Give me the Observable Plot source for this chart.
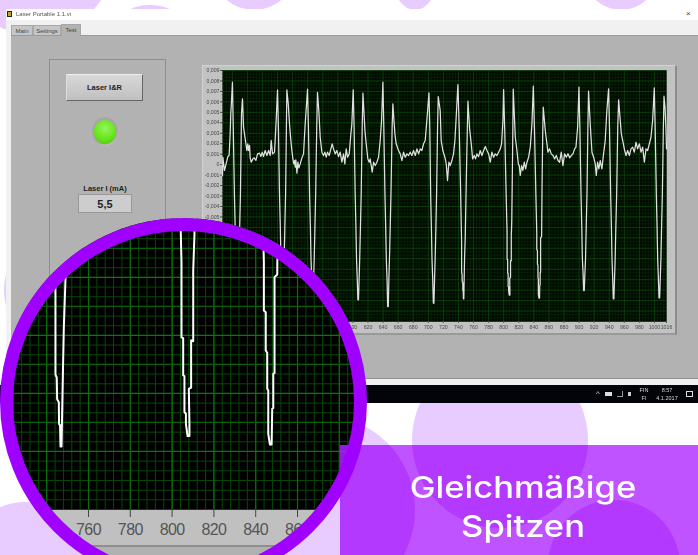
<!DOCTYPE html>
<html><head><meta charset="utf-8">
<script src="https://cdn.jsdelivr.net/npm/d3@7"></script>
<script src="https://cdn.jsdelivr.net/npm/@observablehq/plot@0.6"></script>
<style>
html,body{margin:0;padding:0;background:#fff;width:698px;height:555px;overflow:hidden;font-family:"Liberation Sans",sans-serif}
#page{position:relative;width:698px;height:555px;overflow:hidden}
#page div,#page span{position:absolute}
.lilac{background:#e8ccff;border-radius:50%}
.tab{background:#c6c6c6;border:1px solid #a8a8a8;border-bottom:0;font-size:6px;color:#444;text-align:center;line-height:10px;box-sizing:border-box}
.tray{color:#d8d8d8;font-size:5.5px;text-align:center;width:30px;filter:blur(.25px)}
svg{display:block}
#inset text{letter-spacing:-.6px}
</style></head><body>
<div id="page">
  <div class="lilac" style="left:-45px;top:-125px;width:160px;height:160px"></div>
  <div class="lilac" style="left:110px;top:5px;width:80px;height:60px"></div>
  <div class="lilac" style="left:215px;top:-60px;width:78px;height:70px"></div>
  <div class="lilac" style="left:392px;top:-60px;width:46px;height:70px"></div>
  <div class="lilac" style="left:585px;top:-60px;width:72px;height:70px"></div>
  <div class="lilac" style="left:4px;top:230px;width:120px;height:120px"></div>
  <div class="lilac" style="left:412px;top:352px;width:176px;height:176px"></div>
  <div class="lilac" style="left:225px;top:415px;width:190px;height:190px"></div>
  <div class="lilac" style="left:-38px;top:502px;width:126px;height:126px"></div>
  <div class="lilac" style="left:548px;top:500px;width:132px;height:132px"></div>

  <!-- application window -->
  <div style="left:6px;top:9px;width:692px;height:376px;background:#f1f1f1"></div>
  <div style="left:6px;top:9px;width:692px;height:11px;background:#fff"></div>
  <div style="left:7px;top:11px;width:5px;height:6px;background:#c9a227;border:1px solid #222;box-sizing:border-box"></div>
  <span style="left:16px;top:10.5px;font-size:6px;color:#555;white-space:nowrap;filter:blur(.25px)">Laser Portable 1.1.vi</span>
  <span style="left:686px;top:9px;font-size:8px;color:#444">×</span>
  <div style="left:11px;top:35px;width:687px;height:344px;background:#b2b2b2;border-top:1px solid #9a9a9a;border-bottom:1px solid #929292;box-sizing:border-box"></div>
  <div class="tab" style="left:11px;top:25px;width:22px;height:10px">Main</div>
  <div class="tab" style="left:33px;top:25px;width:28px;height:10px">Settings</div>
  <div class="tab" style="left:61px;top:24px;width:20px;height:12px;background:#b2b2b2">Test</div>

  <div style="left:49px;top:59px;width:117px;height:300px;border:1px solid #8e8e8e;box-sizing:border-box"></div>
  <div style="left:66px;top:74px;width:77px;height:27px;box-sizing:border-box;border:1px solid #666;border-top-color:#eee;border-left-color:#ddd;background:linear-gradient(#d8d8d8,#c0c0c0);font-size:7.5px;font-weight:bold;color:#222;text-align:center;line-height:26px">Laser I&amp;R</div>
  <div style="left:92px;top:117px;width:26px;height:29px;border-radius:50%;background:radial-gradient(circle at 45% 45%,#a6a6a6 62%,#f2f2f2 100%)"></div>
  <div style="left:94px;top:120px;width:22px;height:24px;border-radius:50%;background:radial-gradient(circle at 50% 35%,#96f45c,#62e416 60%,#4cc00a)"></div>
  <span style="left:66px;top:184px;width:78px;text-align:center;font-size:7.5px;font-weight:bold;color:#222">Laser I (mA)</span>
  <div style="left:78px;top:194px;width:54px;height:19px;box-sizing:border-box;background:#cdcdcd;border:1px solid #999;font-size:11px;font-weight:bold;color:#222;text-align:center;line-height:18px">5,5</div>

  <div style="left:202px;top:65px;width:475px;height:270px;background:#c2c2c2;box-sizing:border-box;border:1px solid #d2d2d2;border-right:2px solid #8c8c8c;border-bottom:2px solid #999"></div>
  <div id="main" style="left:202px;top:65px;filter:blur(.4px)"></div>

  <!-- taskbar -->
  <div style="left:0;top:379px;width:698px;height:6px;background:#f1f1f1"></div>
  <div style="left:0;top:385px;width:698px;height:18px;background:#02040a"></div>
  <span class="tray" style="left:583px;top:389px;font-size:8px">^</span>
  <div style="left:605px;top:392px;width:7px;height:4px;background:#ddd"></div>
  <div style="left:617px;top:391px;width:6px;height:6px;border-bottom:1px solid #999;border-right:1px solid #999;box-sizing:border-box"></div>
  <div style="left:628px;top:392px;width:3px;height:4px;background:#ccc"></div>
  <span class="tray" style="left:629px;top:386.5px">FIN</span>
  <span class="tray" style="left:629px;top:394.5px">FI</span>
  <span class="tray" style="left:652px;top:386.5px">8:57</span>
  <span class="tray" style="left:652px;top:394.5px">4.1.2017</span>
  <div style="left:686px;top:391px;width:7px;height:6px;border:1px solid #ddd;box-sizing:border-box"></div>

  <!-- magnifier -->
  <div id="lens" style="left:1px;top:218px;width:365px;height:365px;border-radius:50%;overflow:hidden;background:#c0c0c0">
    <div id="inset" style="left:-1px;top:0"></div>
    <div style="left:0;top:327px;width:365px;height:40px;background:#b1b1b1;border-top:2px solid #8f8f8f;box-sizing:border-box"></div>
  </div>

  <!-- caption box -->
  <div style="left:340px;top:445px;width:358px;height:110px;overflow:hidden;background:rgba(175,40,255,.8)">
    <div style="left:72px;top:-93px;width:176px;height:176px;border-radius:50%;background:rgba(165,20,255,.3)"></div>
    <div style="left:-115px;top:-30px;width:190px;height:190px;border-radius:50%;background:rgba(165,20,255,.3)"></div>
    <div style="left:208px;top:55px;width:132px;height:132px;border-radius:50%;background:rgba(165,20,255,.3)"></div>
  </div>
  <div style="left:0;top:218px;width:367px;height:367px;border-radius:50%;border:13px solid #a000ff;box-sizing:border-box"></div>
  <div style="left:340px;top:468px;width:366px;text-align:center;color:#fff;font-family:Inter,sans-serif;font-weight:500;font-size:30px;line-height:39px;transform:scaleX(1.15)">Gleichmäßige<br>Spitzen</div>
</div>
<script>
// Trace read from the scope display. x = sample, y = signal in thousandths.
const lead = [[427,-1.04],[427.5,.71],[429.6,-.56],[431.8,.07],[434.1,.77],[435.8,.88],[437.2,3],[438,4.86],[438.8,5.9]];
const spike1 = [[440.2,7.88],[441.3,3.5],[442.8,-2.8],[443.8,-6],[444.6,-9],[445.6,-11],[446.4,-12.9],[447.2,-12.9],[448,-11],[448.9,-9],[449.8,-6],[450.8,-2.8],[452.2,4.86],[453.5,6.29]];
const rest1 = [[454.9,3.58],[457.1,2.47],[459.3,1.35],[460.6,1.99],[461.5,1.35],[462.9,1.83],[463.7,.65],[465.1,.24],[467.3,.55],[469,.65],[471.3,.4],[473.5,1.03],[476.1,1.1],[477.9,.78],[479.7,1.19],[481.4,.78],[483.6,1.35],[485.9,.87],[488.1,1.35],[490.3,.87],[491.6,2.31],[493.4,1.03],[496,1.19],[498.2,4.22]];
const spike2 = [[500,7.15],[501.2,3.5],[502.6,-2.8],[503.7,-6],[504.5,-9],[505.5,-11],[506.3,-12.9],[507.1,-12.9],[507.9,-11],[508.8,-9],[509.7,-6],[510.7,-2.8],[512,5],[512.4,7.15]];
const rest2 = [[514.2,5.81],[515.9,3.9],[517.7,2.3],[519,1.35],[520.4,.55],[521.7,.07],[522.6,.39],[523.5,-.25],[524.3,.45],[525.7,-.82],[527,.23],[528.3,-.31],[530.1,.07],[531.9,.55],[534.5,1.03],[536.7,3.9],[538.5,5.81]];
const spike3 = [[539.8,7.21],[541,3.5],[542.5,-2.8],[543.6,-6],[544.4,-9],[545.4,-11],[546.2,-12.8],[547,-12.8],[547.8,-11],[548.7,-9],[549.6,-6],[550.6,-2.8],[552,3.5],[553,6.92]];
const rest3 = [[554.9,5],[556.6,2.62],[558.8,1.19],[561,.87],[562.8,1.19],[564.6,.71],[566.3,1.19],[568.5,.87],[570.8,1.51],[572.5,1.99],[574.3,1.51],[576.5,1.03],[578.7,1.35],[580.9,.77],[583.1,1.19],[585.4,.23],[587.6,1.03],[589.3,.07],[591.1,1.51],[592.9,.71],[595.1,1.03],[597.3,2.94],[598.6,3.9]];
const spike4 = [[600.4,7.15],[601.6,3.5],[603,-2.8],[604,-6],[604.8,-9],[605.8,-11],[606.6,-12.93],[607.4,-12.93],[608.2,-11],[609,-9],[610,-6],[611,-2.8],[612.3,3.5],[613.3,6.83]];
const rest4 = [[614.5,5.2],[616,3.2],[617.6,1.99],[619.8,.55],[621.6,.23],[622.9,.55],[624.3,-.09],[625.6,-.72],[627.4,.23],[629.6,-.09],[631.8,.23],[634,.71],[636.2,2.3],[638,4.22]];
const spike5 = [[639.8,7.88],[641,3.5],[642.5,-2.8],[643.5,-6],[644.3,-9],[645.3,-11],[646.1,-13.57],[646.9,-13.57],[647.7,-11],[648.5,-9],[649.5,-6],[650.5,-2.8],[652,3.5],[653,5.81]];
const rest5 = [[654.3,4.4],[655.7,2.94],[657.4,1.99],[660.5,1.35],[662.8,1.03],[665,.39],[667.2,1.19],[669.4,.71],[671.6,1.03],[673.8,.87],[676,1.19],[678.2,.87],[680.4,1.35],[682.7,.87],[684.9,1.51],[687.1,1.03],[689.3,1.51],[691.5,1.35],[693.7,1.99],[695.9,2.3],[698.1,4.22]];
const spike6 = [[700.9,6.86],[702,3.5],[703.1,-2.8],[704.1,-6],[704.9,-9],[705.9,-11],[706.7,-13.25],[707.5,-13.25],[708.3,-11],[709.1,-9],[710.1,-6],[711,-2.8],[712.3,3.5],[713.2,6.51]];
const rest6 = [[715.8,5.17],[717.1,2.3],[719.3,1.35],[722,.71],[723.8,.07],[725.5,-1.52],[727.3,.23],[729.1,-.09],[731.3,.39],[733.5,1.03],[735.3,2.3],[737,4.53]];
const spike7 = [[739.3,7.66],[741,3.5],[742.7,-2],[744.2,-7.5],[744.2,-10.35],[744.8,-10.45],[745,-11.2],[745.8,-11.3],[745.9,-12.05],[746.4,-12.1],[746.6,-12.83],[747.1,-12.83],[747.4,-11.64],[747.7,-10.5],[748.2,-8.71],[749,-7.05],[750.4,-1.5],[751.8,3.5],[752.6,6.06]];
const rest7 = [[754.8,3.42],[757,1.99],[758.8,.55],[761,.87],[762.7,.55],[764.5,1.03],[766.7,.77],[768.9,1.35],[771.2,.87],[773.4,1.35],[775.6,1.73],[777.8,1.35],[780,1.03],[782.2,.23],[784.4,1.19],[786.6,.71],[788.8,1.03],[791,.87],[793.3,1.19],[795.5,1.51],[797.2,1.99],[799,4.22]];
const spike8 = [[799.9,7.18],[801.5,3],[803,-2],[804.5,-6.5],[804.5,-9.06],[805.3,-9.1],[805.3,-10.38],[805.9,-10.4],[805.9,-11.64],[806.6,-11.7],[806.6,-12.05],[807.4,-12.47],[808.3,-12.47],[808.3,-12.05],[808,-10.84],[809.1,-10.8],[809.1,-9.17],[810.1,-9.2],[810.1,-6.76],[810.7,-5.5],[811.8,1],[812.7,7.21]];
const rest8 = [[815.4,2.62],[817.6,1.35],[819.4,.07],[820.7,-.09],[822,-1.04],[823.8,-.09],[825.5,-.56],[827.3,.23],[829.1,-.41],[830.9,.23],[833.1,.71],[835.3,1.67],[837.5,3.9]];
const spike9 = [[839.3,7.5],[841,3],[842.6,-2.5],[843.9,-6.5],[843.9,-8.14],[844.8,-8.2],[844.8,-9.52],[845.5,-9.6],[845.5,-10.84],[846,-10.9],[846,-12.39],[846.8,-12.76],[847.6,-12.76],[847.9,-11.53],[848.4,-11.5],[848.4,-10.32],[849,-10.3],[849,-6.99],[850.3,-6.9],[850.9,-2],[851.8,3],[852.5,5.49]];
const rest9 = [[855.2,3.26],[857.4,1.99],[858.7,1.19],[860.9,1.51],[863.1,1.03],[865.4,.87],[867.6,.55],[869.8,.87],[872,.39],[874.2,.23],[876.4,1.19],[878.6,-.09],[880.8,1.03],[883.1,.71],[885.3,1.03],[887.5,.65],[889.7,.87],[891.9,1.03],[894.1,1.51],[895.9,1.67],[898.1,3.58]];
const spike10 = [[899.9,7.4],[901.1,3.5],[902.6,-2.8],[903.6,-6],[904.4,-9],[905.4,-10.5],[906.1,-12.04],[906.9,-12.04],[907.7,-10.5],[908.6,-9],[909.5,-6],[910.5,-2.8],[911.7,3.5],[912.6,7.02]];
const rest10 = [[914.8,3.9],[917.1,1.19],[919.3,.71],[921.5,.07],[922.8,-1.04],[924.6,.23],[926.3,-.41],[928.1,.39],[930.3,-.41],[932.5,1.03],[934.7,2.3],[936.9,5.17]];
const spike11 = [[939.2,7.25],[940.4,3.5],[941.9,-2.8],[942.9,-6],[943.7,-9],[944.7,-11],[945.4,-12.83],[946.2,-12.83],[947,-11],[947.9,-9],[948.8,-6],[949.9,-2.8],[951.3,3.5],[952.5,6.2]];
const rest11 = [[954.2,4.6],[956.1,2.94],[958.3,2.14],[960.5,1.35],[962.3,.87],[964.5,1.35],[966.7,.87],[968.9,1.51],[971.1,1.67],[973.3,1.19],[975.5,2.14],[977.7,1.51],[980,1.99],[982.2,1.19],[984.4,1.67],[986.6,.23],[988.8,1.51],[991,1.35],[993.2,1.99],[995.4,2.62],[997.6,4.22]];
const spike12 = [[999.8,7.34],[1001,3.5],[1002.5,-2.8],[1003.5,-6],[1004.3,-9],[1005.3,-11],[1006.1,-12.74],[1006.9,-12.74],[1007.7,-11],[1008.6,-9],[1009.5,-6],[1010.5,-2.8],[1011.8,3.5],[1012.7,6.54]];
const tail = [[1014,5.5],[1015.2,3.5],[1016,1.5]];

const trace = [lead,spike1,rest1,spike2,rest2,spike3,rest3,spike4,rest4,spike5,rest5,spike6,rest6,spike7,rest7,spike8,rest8,spike9,rest9,spike10,rest10,spike11,rest11,spike12,tail].flat();

const xMajor = d3.range(440,1001,20);
const xLabels = [...xMajor,1016];
const xMinor = d3.range(428,1017,4);
const yMajor = d3.range(-15,10,1);
const yMinor = d3.range(-15,9.01,1/3);
const yLabel = v => v === 0 ? "0" : (v<0?"-":"") + "0," + String(Math.abs(v)).padStart(3,"0");

const main = Plot.plot({
  width:475,height:270,marginLeft:20,marginRight:11,marginTop:5,marginBottom:14,
  style:{background:"transparent",color:"#4a4a4a",fontFamily:"Liberation Sans"},
  x:{domain:[427,1016]},y:{domain:[-15,9]},
  marks:[
    Plot.frame({fill:"#000a00",stroke:null}),
    Plot.ruleX(xMinor,{stroke:"#082f08",strokeWidth:.5}),
    Plot.ruleY(yMinor,{stroke:"#082f08",strokeWidth:.5}),
    Plot.ruleX(xMajor,{stroke:"#0a440a",strokeWidth:.8}),
    Plot.ruleY(yMajor,{stroke:"#0a440a",strokeWidth:.8}),
    Plot.line(trace,{x:d=>d[0],y:d=>d[1],stroke:"#e0e0e0",strokeWidth:1.25,curve:"linear"}),
    Plot.axisX({ticks:xLabels,label:null,tickSize:2,tickPadding:1.5,fontSize:5.2,tickFormat:d=>String(d),stroke:"#555"}),
    Plot.axisY({ticks:d3.range(-15,10),label:null,tickSize:2,tickPadding:1,fontSize:5.2,tickFormat:yLabel,stroke:"#555"})
  ]
});
document.getElementById("main").append(main);

const insetX = d3.range(720,893,20);
const insetLabels = [760,780,800,820,840,860];
const insetMinor = d3.range(720,893,4);
const insetYMinor = d3.range(-15,-4.9,1/3);
const inset = Plot.plot({
  width:366,height:366,margin:0,marginBottom:75,
  style:{background:"transparent",color:"#555",fontFamily:"Liberation Sans"},
  x:{domain:[717.9,893]},y:{domain:[-15,-4.97],axis:null},
  marks:[
    Plot.frame({fill:"#000",stroke:null}),
    Plot.ruleX(insetMinor,{stroke:"#064806",strokeWidth:1}),
    Plot.ruleY(insetYMinor,{stroke:"#064806",strokeWidth:1}),
    Plot.ruleX(insetX,{stroke:"#0a700a",strokeWidth:1.2}),
    Plot.ruleY([-12,-10,-8,-6],{stroke:"#0a600a",strokeWidth:1.2}),
    Plot.ruleY([-13,-11,-9,-7,-5],{stroke:"#0b780b",strokeWidth:1.3}),
    Plot.line(trace,{x:d=>d[0],y:d=>d[1],stroke:"#fff",strokeWidth:2,clip:true}),
    Plot.axisX({ticks:insetLabels,label:null,tickSize:8,tickPadding:6,fontSize:16,tickFormat:d=>String(d),stroke:"#444"})
  ]
});
document.getElementById("inset").append(inset);
</script>
</body></html>
